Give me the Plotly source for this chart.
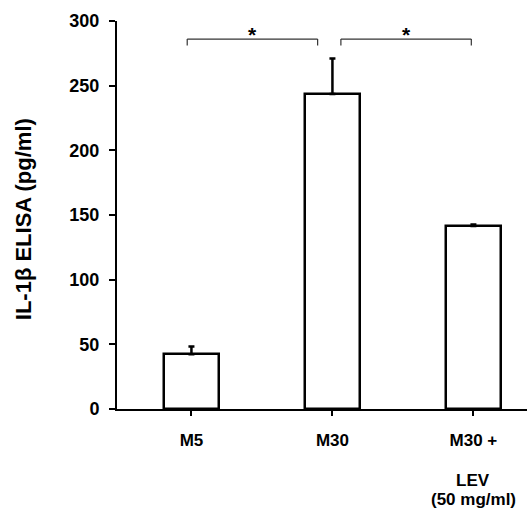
import plotly.graph_objects as go

categories = ["M5", "M30", "M30 +"]
values = [42.3, 243.5, 141.5]
errors_up = [6.0, 27.5, 1.2]
y_ticks = [0, 50, 100, 150, 200, 250, 300]
extra_label_lines = ["LEV", "(50 mg/ml)"]
bracket_pairs = [(0, 1), (1, 2)]
bracket_y = 286
bracket_drop = 5
sig_marks = ["*", "*"]

FONT = "Liberation Sans, Arial, sans-serif"

fig = go.Figure()
xpos = list(range(len(categories)))
fig.add_trace(go.Bar(
    x=xpos, y=values, width=0.39,
    marker=dict(color="white", line=dict(color="black", width=2.5)),
    error_y=dict(type="data", symmetric=False, array=errors_up,
                 arrayminus=[0] * len(values), color="black",
                 thickness=2.5, width=3),
    showlegend=False,
))

# significance brackets
for (a, b), mark in zip(bracket_pairs, sig_marks):
    x0 = a - 0.03 if a == 0 else a + 0.06
    x1 = b - 0.105 if b == 1 else b - 0.015
    fig.add_shape(type="line", x0=x0, x1=x1, y0=bracket_y, y1=bracket_y,
                  line=dict(color="#333333", width=1.2))
    for xx in (x0, x1):
        fig.add_shape(type="line", x0=xx, x1=xx, y0=bracket_y,
                      y1=bracket_y - bracket_drop,
                      line=dict(color="#333333", width=1.2))
    fig.add_annotation(x=(x0 + x1) / 2, y=bracket_y, text=mark,
                       showarrow=False, yanchor="middle", yshift=5,
                       font=dict(family=FONT, size=21, color="black", weight="bold"))

# extra lines for third label
for line, yy in zip(extra_label_lines, [-0.184, -0.233]):
    fig.add_annotation(x=2, y=yy, xref="x", yref="paper", text=line,
                       showarrow=False, xanchor="center", yanchor="middle",
                       font=dict(family=FONT, size=17, color="black", weight="bold"))

# y title
fig.add_annotation(x=-0.226, y=0.49, xref="paper", yref="paper",
                   text="IL-1β ELISA (pg/ml)", textangle=-90, showarrow=False,
                   xanchor="center", yanchor="middle",
                   font=dict(family=FONT, size=22, color="black", weight="bold"))

fig.update_layout(
    width=527, height=509,
    margin=dict(l=117, r=0, t=21, b=100),
    plot_bgcolor="white", paper_bgcolor="white",
    bargap=0,
    xaxis=dict(
        range=[-0.528, 2.38], tickmode="array", tickvals=xpos, ticktext=categories,
        showgrid=False, zeroline=False, showline=True, linecolor="black", linewidth=2,
        ticks="outside", ticklen=5, tickwidth=2, tickcolor="black",
        ticklabelstandoff=10,
        tickfont=dict(family=FONT, size=17, color="black", weight="bold"),
    ),
    yaxis=dict(
        range=[0, 300], tickmode="array", tickvals=y_ticks,
        showgrid=False, zeroline=False, showline=True, linecolor="black", linewidth=2,
        ticks="outside", ticklen=6, tickwidth=2, tickcolor="black",
        ticklabelstandoff=6,
        tickfont=dict(family=FONT, size=18, color="black", weight="bold"),
    ),
)

fig.write_html("out.html", config={"displayModeBar": False},
               post_script="document.body.style.margin='0';document.body.style.overflow='hidden';")
